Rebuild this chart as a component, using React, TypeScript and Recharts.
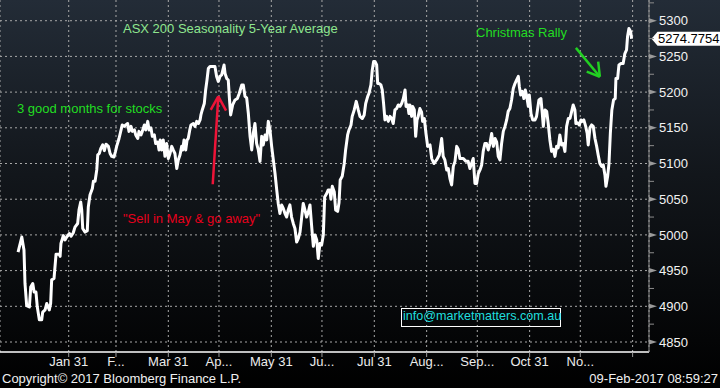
import React from 'react';
import { LineChart, Line, XAxis, YAxis, CartesianGrid, ReferenceLine } from 'recharts';

// day of year (trading observations) and the 5-year average index level
const days = [
  1, 3.2, 4.5, 5.1, 6.1, 7.7, 8.5, 9.7, 10.5, 11.6,
  12.4, 13.6, 15, 15.6, 17, 18, 19.5, 20.3, 20.9, 22.3,
  23.5, 25.4, 25.9, 26.4, 27.8, 28.8, 29.8, 31.4, 32.4, 33.7,
  34.7, 36.3, 37.1, 38.1, 38.7, 39.3, 40.7, 42, 42.6, 43.6,
  45, 45.6, 46.6, 47.6, 48.2, 49.1, 50, 51.1, 52.1, 53.1,
  54.5, 55.5, 56.5, 57.8, 58.6, 59.4, 60.8, 62, 62.7, 63.9,
  64.8, 65.9, 66.7, 67.9, 68.7, 69.9, 70.7, 71.9, 72.6, 73.8,
  74.6, 75.8, 76.6, 77.8, 78.6, 79.7, 80.5, 81.7, 82.5, 83.7,
  84.5, 85.2, 86.1, 87, 88, 89, 90, 91, 92, 92.9,
  93.9, 95, 95.9, 96.9, 97.9, 98.5, 99.3, 100.3, 101.1, 101.8,
  102.7, 103.4, 104.8, 105.8, 106.8, 107.8, 108.8, 109.3, 110.1, 111.3,
  112.1, 112.9, 113.7, 114.7, 116, 117.6, 118.6, 119.6, 120.6, 121.6,
  123, 123.6, 124.6, 125.5, 126.1, 126.9, 128.1, 129.5, 130.9, 132,
  133.5, 134.4, 135.4, 136.4, 137.4, 138.4, 139.4, 140.3, 141.3, 142.3,
  143.3, 144.3, 145.3, 146.2, 147.3, 148.3, 149.2, 150.2, 151.2, 152.2,
  153.2, 154.2, 155.1, 156.1, 157.1, 158.1, 159.1, 160.1, 161, 162,
  163, 164, 165, 166, 167, 168, 169, 169.9, 170.9, 171.9,
  172.9, 173.9, 174.9, 175.9, 176.9, 177.9, 178.8, 179.8, 180.8, 181.8,
  182.6, 183.8, 184.7, 185.7, 186.3, 187.1, 188.3, 189.1, 190.3, 191.1,
  191.8, 193, 194.2, 195, 196.2, 197, 198.2, 198.9, 200.1, 201.3,
  202.5, 203.5, 204.9, 206, 206.9, 208.1, 208.8, 210, 210.8, 211.6,
  212.4, 213.4, 214, 214.9, 215.9, 216.7, 217.5, 218.3, 219.3, 220.3,
  221.3, 222.3, 223.2, 224.2, 225.2, 226.2, 227.2, 228.2, 229.2, 230.2,
  230.8, 231.8, 232.5, 233.1, 234.1, 234.7, 235.7, 236.5, 237.3, 238,
  239, 240, 240.6, 241.6, 242.6, 243.6, 245, 246, 247.3, 248.9,
  250.5, 251.9, 252.8, 253.8, 254.9, 255.8, 256.8, 257.8, 258.8, 259.8,
  260.8, 261.7, 262.7, 264.7, 266.3, 267.6, 268.6, 269.6, 270.6, 271.6,
  272.6, 273.6, 274.6, 275.6, 276.5, 277.5, 278.5, 279.5, 280.5, 281.5,
  282.5, 283.5, 284.5, 285.4, 286.4, 287.4, 288.4, 289.4, 290.4, 291.3,
  292.3, 293.3, 294.3, 295.3, 296.3, 297.3, 297.9, 298.7, 299.6, 300.6,
  301.4, 302.2, 303.2, 303.8, 304.8, 305.8, 307.2, 308.1, 309.5, 310.7,
  311.5, 312.1, 313.1, 314.1, 315, 316, 317, 318, 319, 320,
  320.9, 321.9, 322.9, 323.9, 324.9, 325.9, 326.9, 327.9, 328.9, 329.8,
  330.8, 331.4, 332.4, 333.4, 334.4, 335.1, 336.1, 337.2, 338.1, 338.7,
  339.7, 340.7, 341.7, 342.7, 343.7, 344.6, 345.6, 346.6, 347.6, 348.6,
  349.2, 350.2, 351, 351.8, 352.7, 353.7, 354.7, 355.1, 356.1, 356.9,
  358.1, 359.4, 360.4, 361.4, 362, 362.8, 363.8, 364.4,
];

const values = [
  4976, 4997, 4979, 4932, 4901, 4899, 4927, 4932, 4920, 4920,
  4899, 4881, 4881, 4892, 4895, 4904, 4895, 4904, 4937, 4939,
  4973, 4973, 4970, 4988, 4999, 4993, 4997, 5002, 4998, 5003,
  5011, 5016, 5035, 5046, 5035, 5009, 5004, 5006, 5039, 5056,
  5065, 5075, 5075, 5091, 5112, 5114, 5121, 5126, 5118, 5127,
  5124, 5114, 5110, 5109, 5116, 5124, 5135, 5147, 5154, 5152,
  5154, 5156, 5145, 5152, 5145, 5147, 5140, 5135, 5145, 5140,
  5145, 5154, 5147, 5159, 5147, 5150, 5138, 5140, 5128, 5130,
  5119, 5133, 5119, 5133, 5110, 5128, 5107, 5114, 5124, 5119,
  5114, 5093, 5105, 5112, 5124, 5119, 5133, 5119, 5133, 5135,
  5147, 5154, 5156, 5152, 5159, 5156, 5161, 5168, 5175, 5184,
  5203, 5217, 5233, 5236, 5236, 5236, 5222, 5215, 5222, 5224,
  5238, 5226, 5219, 5217, 5194, 5168, 5182, 5189, 5191, 5198,
  5210, 5210, 5194, 5192, 5170, 5138, 5119, 5142, 5156, 5128,
  5119, 5103, 5138, 5126, 5140, 5133, 5159, 5147, 5124, 5105,
  5086, 5063, 5044, 5030, 5042, 5037, 5030, 5025, 5035, 5042,
  5025, 5016, 5009, 4990, 4995, 5004, 5025, 5044, 5035, 5025,
  5032, 5042, 5012, 4984, 5000, 4993, 4967, 4988, 4986, 5000,
  5053, 5058, 5063, 5063, 5050, 5068, 5060, 5035, 5033, 5045,
  5077, 5082, 5100, 5119, 5140, 5147, 5154, 5166, 5175, 5187,
  5175, 5166, 5163, 5168, 5184, 5194, 5198, 5210, 5231, 5243,
  5243, 5238, 5212, 5212, 5210, 5203, 5184, 5161, 5166, 5159,
  5166, 5163, 5156, 5175, 5177, 5182, 5180, 5184, 5191, 5203,
  5180, 5182, 5170, 5182, 5166, 5180, 5175, 5138, 5161, 5166,
  5177, 5172, 5159, 5163, 5142, 5124, 5126, 5107, 5100, 5105,
  5112, 5135, 5110, 5105, 5091, 5093, 5079, 5070, 5096, 5103,
  5124, 5120, 5107, 5107, 5103, 5103, 5093, 5100, 5107, 5072,
  5072, 5086, 5091, 5098, 5117, 5128, 5128, 5119, 5128, 5142,
  5124, 5135, 5130, 5110, 5105, 5128, 5145, 5152, 5161, 5173,
  5177, 5189, 5205, 5212, 5217, 5222, 5208, 5196, 5201, 5191,
  5203, 5195, 5180, 5196, 5170, 5161, 5161, 5166, 5189, 5191,
  5170, 5152, 5175, 5173, 5156, 5133, 5117, 5120, 5110, 5124,
  5122, 5140, 5126, 5128, 5117, 5152, 5163, 5163, 5173, 5182,
  5175, 5156, 5157, 5154, 5161, 5159, 5161, 5152, 5142, 5126,
  5150, 5154, 5152, 5135, 5124, 5112, 5100, 5096, 5098, 5084,
  5068, 5082, 5100, 5142, 5175, 5189, 5191, 5219, 5219, 5238,
  5240, 5240, 5254, 5259, 5278, 5289, 5285, 5274.7754,
];

const monthEndTicks = [31, 59, 90, 120, 151, 181, 212, 243, 273, 304, 334, 365];
const monthEndLabels = ['Jan 31', 'F...', 'Mar 31', 'Ap...', 'May 31', 'Ju...', 'Jul 31', 'Aug...', 'Sep...', 'Oct 31', 'No...', ''];
const yMajorTicks = [4850, 4900, 4950, 5000, 5050, 5100, 5150, 5200, 5250, 5300];
const yAllTicks = [4850, 4875, 4900, 4925, 4950, 4975, 5000, 5025, 5050, 5075, 5100, 5125, 5150, 5175, 5200, 5225, 5250, 5275, 5300, 5325];
const lastValue = 5274.7754;

// annotation arrows in data space (day, level)
const redArrowTail = { x: 116.3, y: 5071 };
const redArrowTip = { x: 119.6, y: 5194 };
const redArrowLeft = { x: 115.1, y: 5175 };
const redArrowRight = { x: 124.2, y: 5174 };
const greenArrowTail = { x: 331.4, y: 5262 };
const greenArrowTip = { x: 345.6, y: 5221.5 };
const greenArrowLeft = { x: 337.8, y: 5228.6 };
const greenArrowRight = { x: 344.6, y: 5242.6 };

const data = days.map((d, i) => ({ d, v: values[i] }));

const FONT = '"Liberation Sans", Arial, sans-serif';
const FS = 13;

const YTick = (props: any) => {
  const { x, y, payload } = props;
  const v = payload.value as number;
  if (v % 50 !== 0) {
    return <line x1={x} x2={x + 5} y1={y} y2={y} stroke="#8c8c8c" strokeWidth={1} />;
  }
  return (
    <g>
      <path d={`M${x},${y - 2.5} L${x + 8},${y} L${x},${y + 2.5} Z`} fill="#9a9a9a" />
      <text x={x + 10} y={y} dy="0.36em" fill="#f2f2f2" fontSize={FS} fontFamily={FONT}>
        {v}
      </text>
    </g>
  );
};

const LastLabel = (props: any) => {
  const vb = props.viewBox || {};
  const tipX = vb.x + vb.width + 2.5;
  const cy = vb.y;
  return (
    <g>
      <path
        d={`M${tipX},${cy} L${tipX + 6},${cy - 7} L720,${cy - 7} L720,${cy + 7} L${tipX + 6},${cy + 7} Z`}
        fill="#ffffff"
      />
      <text x={tipX + 6.5} y={cy} dy="0.36em" fill="#000" fontSize={FS} fontFamily={FONT}>
        {lastValue.toFixed(4)}
      </text>
    </g>
  );
};

const textStyle = (left: number, top: number, color: string, size: number = FS): React.CSSProperties => ({
  position: 'absolute',
  left,
  top,
  color,
  fontSize: size,
  lineHeight: '15px',
  fontFamily: FONT,
  whiteSpace: 'nowrap',
});

export default function App() {
  return (
    <div
      style={{
        position: 'absolute',
        left: 0,
        top: 0,
        width: 720,
        height: 388,
        overflow: 'hidden',
        background: 'linear-gradient(180deg, #232c37 0%, #12161b 45%, #000000 100%)',
        fontFamily: FONT,
      }}
    >
      <LineChart width={720} height={388} data={data} margin={{ top: 0, right: 0, bottom: 0, left: 0 }}>
        <CartesianGrid stroke="#a8a8a8" strokeDasharray="2 3" horizontalValues={yMajorTicks} />
        <XAxis
          type="number"
          dataKey="d"
          domain={[-9.7, 374.7]}
          allowDataOverflow
          ticks={monthEndTicks}
          interval={0}
          tickFormatter={(v: number) => monthEndLabels[monthEndTicks.indexOf(v)]}
          height={36}
          axisLine={{ stroke: '#ffffff', strokeWidth: 1.5 }}
          tickLine={{ stroke: '#9a9a9a' }}
          tickSize={5}
          tickMargin={0}
          tick={{ fill: '#ececec', fontSize: FS, fontFamily: FONT }}
        />
        <YAxis
          orientation="right"
          width={71}
          domain={[4836, 5329]}
          allowDataOverflow
          ticks={yAllTicks}
          interval={0}
          axisLine={{ stroke: '#8c8c8c' }}
          tickLine={false}
          tickSize={0}
          tickMargin={0}
          tick={<YTick />}
        />
        <ReferenceLine segment={[redArrowTail, redArrowTip]} stroke="#ee1438" strokeWidth={2.5} />
        <ReferenceLine segment={[redArrowLeft, redArrowTip]} stroke="#ee1438" strokeWidth={2.5} />
        <ReferenceLine segment={[redArrowTip, redArrowRight]} stroke="#ee1438" strokeWidth={2.5} />
        <ReferenceLine segment={[greenArrowTail, greenArrowTip]} stroke="#22d022" strokeWidth={2.5} />
        <ReferenceLine segment={[greenArrowLeft, greenArrowTip]} stroke="#22d022" strokeWidth={2.5} />
        <ReferenceLine segment={[greenArrowTip, greenArrowRight]} stroke="#22d022" strokeWidth={2.5} />
        <Line
          type="linear"
          dataKey="v"
          stroke="#ffffff"
          strokeWidth={3}
          strokeLinejoin="round"
          dot={false}
          activeDot={false}
          isAnimationActive={false}
        />
        <ReferenceLine y={lastValue} stroke="none" label={<LastLabel />} />
      </LineChart>

      <div style={textStyle(123, 21, '#8fe68f')}>ASX 200 Seasonality 5-Year Average</div>
      <div style={textStyle(17, 101, '#22dd22')}>3 good months for stocks</div>
      <div style={textStyle(476, 25, '#22dd22')}>Christmas Rally</div>
      <div style={textStyle(123, 211, '#e8001c')}>"Sell in May &amp; go away"</div>
      <div
        style={{
          position: 'absolute',
          left: 401,
          top: 308,
          width: 158,
          height: 17,
          border: '1px solid #ffffff',
          boxSizing: 'content-box',
        }}
      />
      <div style={textStyle(403, 309, '#1fdede', 12.6)}>info@marketmatters.com.au</div>
      <div style={textStyle(2, 371, '#f0f0f0')}>Copyright© 2017 Bloomberg Finance L.P.</div>
      <div style={{ ...textStyle(0, 371, '#f0f0f0'), left: 'auto', right: 2 }}>09-Feb-2017 08:59:27</div>
    </div>
  );
}
